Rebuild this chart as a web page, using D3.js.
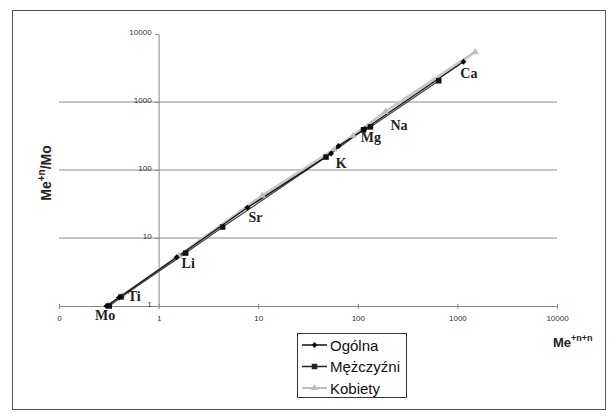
<!DOCTYPE html>
<html lang="pl">
	<head>
		<meta charset="utf-8">
		<title>Me/Mo</title>
		<script type="text/javascript" src="https://cdn.jsdelivr.net/npm/d3@7"></script>
		<style type="text/css">
			body { margin: 0; background: #fff; }
			text { font-family: "Liberation Sans", Arial, sans-serif; }
			.tick text { font-size: 8px; fill: #333; }
			.elem { font-family: "Liberation Serif", "Times New Roman", serif; font-weight: bold; font-size: 14px; fill: #222; }
		</style>
	</head>
	<body>
	<script type="text/javascript">

    // data (x = Me^+n+n, y = Me^+n/Mo)
    var seriesNames = ["Ogólna", "Mężczyźni", "Kobiety"];

    var ogolnaX = [0.30, 0.40, 1.52, 7.8, 54, 64, 118, 1150];
    var ogolnaY = [1.0, 1.33, 5.2, 28, 175, 225, 400, 3900];

    var mezczyzniX = [0.32, 0.42, 1.87, 4.4, 48, 114, 134, 650];
    var mezczyzniY = [1.0, 1.36, 6.0, 14.5, 155, 390, 430, 2050];

    var kobietyX = [0.31, 0.43, 1.6, 11, 58, 90, 190, 1510];
    var kobietyY = [1.02, 1.4, 5.5, 42, 200, 320, 720, 5430];

    var xTicks = [0.1, 1, 10, 100, 1000, 10000];
    var xTickLabels = ["0", "1", "10", "100", "1000", "10000"];
    var yTicks = [1, 10, 100, 1000, 10000];
    var yTickLabels = ["1", "10", "100", "1000", "10000"];

    // element names and where they sit (in data units)
    var elemNames = ["Mo", "Ti", "Li", "Sr", "K", "Mg", "Na", "Ca"];
    var elemX = [0.23, 0.49, 1.70, 8.0, 60, 107, 213, 1070];
    var elemY = [0.62, 1.19, 3.6, 17.2, 107, 258, 388, 2240];

    var w = 616;
    var h = 420;

    var svg = d3.select("body")
                .append("svg")
                .attr("width", w)
                .attr("height", h);

    // outer frame
    svg.append("rect")
       .attr("x", 12.5).attr("y", 10.5)
       .attr("width", 593).attr("height", 399)
       .attr("fill", "none")
       .attr("stroke", "#555")
       .attr("stroke-width", 1);

    var xScale = d3.scaleLog()
                   .domain([0.1, 10000])
                   .range([59, 557]);

    var yScale = d3.scaleLog()
                   .domain([1, 10000])
                   .range([306, 34]);

    // horizontal gridlines
    svg.selectAll("line.grid")
       .data([10, 100, 1000])
       .enter()
       .append("line")
       .attr("class", "grid")
       .attr("x1", xScale(0.1))
       .attr("x2", xScale(10000))
       .attr("y1", function(d) { return yScale(d); })
       .attr("y2", function(d) { return yScale(d); })
       .attr("stroke", "#8a8a8a")
       .attr("stroke-width", 1);

    var xAxis = d3.axisBottom(xScale)
                  .tickValues(xTicks)
                  .tickFormat(function(d, i) { return xTickLabels[i]; })
                  .tickSize(3)
                  .tickPadding(6);

    var yAxis = d3.axisLeft(yScale)
                  .tickValues(yTicks)
                  .tickFormat(function(d, i) { return yTickLabels[i]; })
                  .tickSize(3)
                  .tickPadding(4);

    var gx = svg.append("g")
       .attr("class", "x axis")
       .attr("transform", "translate(0," + yScale(1) + ")")
       .call(xAxis);

    var gy = svg.append("g")
       .attr("class", "y axis")
       .attr("transform", "translate(" + xScale(1) + ",0)")
       .call(yAxis);

    gx.select(".domain").attr("stroke", "#888");
    gy.select(".domain").attr("stroke", "#888");
    gx.selectAll(".tick line").attr("stroke", "#888").attr("y1", -2);
    gy.selectAll(".tick line").attr("stroke", "#888");
    gy.selectAll(".tick text").attr("dy", "0.1em");

    // series
    var makeSeries = function(xs, ys) {
      return xs.map(function(x, i) { return {x: x, y: ys[i]}; });
    };
    var ogolna = makeSeries(ogolnaX, ogolnaY);
    var mezczyzni = makeSeries(mezczyzniX, mezczyzniY);
    var kobiety = makeSeries(kobietyX, kobietyY);

    var line = d3.line()
                 .x(function(d) { return xScale(d.x); })
                 .y(function(d) { return yScale(d.y); });

    svg.append("path")
       .datum(kobiety)
       .attr("d", line)
       .attr("fill", "none")
       .attr("stroke", "#c6c6c6")
       .attr("stroke-width", 3);

    svg.append("path")
       .datum(mezczyzni)
       .attr("d", line)
       .attr("fill", "none")
       .attr("stroke", "#444")
       .attr("stroke-width", 1.3);

    svg.append("path")
       .datum(ogolna)
       .attr("d", line)
       .attr("fill", "none")
       .attr("stroke", "#111")
       .attr("stroke-width", 1.3);

    var diamond = d3.symbol().type(d3.symbolDiamond2).size(22);
    var square = d3.symbol().type(d3.symbolSquare).size(30);
    var triangle = d3.symbol().type(d3.symbolTriangle).size(22);

    svg.selectAll("path.kob")
       .data(kobiety)
       .enter()
       .append("path")
       .attr("class", "kob")
       .attr("d", triangle)
       .attr("transform", function(d) { return "translate(" + xScale(d.x) + "," + yScale(d.y) + ")"; })
       .attr("fill", "#bdbdbd");

    svg.selectAll("path.mez")
       .data(mezczyzni)
       .enter()
       .append("path")
       .attr("class", "mez")
       .attr("d", square)
       .attr("transform", function(d) { return "translate(" + xScale(d.x) + "," + yScale(d.y) + ")"; })
       .attr("fill", "#111");

    svg.selectAll("path.ogo")
       .data(ogolna)
       .enter()
       .append("path")
       .attr("class", "ogo")
       .attr("d", diamond)
       .attr("transform", function(d) { return "translate(" + xScale(d.x) + "," + yScale(d.y) + ")"; })
       .attr("fill", "#000");

    // element labels
    svg.selectAll("text.elem")
       .data(elemNames)
       .enter()
       .append("text")
       .attr("class", "elem")
       .attr("x", function(d, i) { return xScale(elemX[i]); })
       .attr("y", function(d, i) { return yScale(elemY[i]); })
       .text(function(d) { return d; });

    // axis titles
    var yTitle = svg.append("text")
       .attr("transform", "translate(51,173) rotate(-90)")
       .attr("text-anchor", "middle")
       .attr("font-size", "14px")
       .attr("font-weight", "bold")
       .attr("fill", "#222");
    yTitle.append("tspan").text("Me");
    yTitle.append("tspan").attr("dy", -6).attr("font-size", "10px").text("+n");
    yTitle.append("tspan").attr("dy", 6).text("/Mo");

    var xTitle = svg.append("text")
       .attr("x", 553)
       .attr("y", 347)
       .attr("font-size", "13px")
       .attr("font-weight", "bold")
       .attr("fill", "#222");
    xTitle.append("tspan").text("Me");
    xTitle.append("tspan").attr("dy", -6).attr("font-size", "9px").text("+n+n");

    // legend
    var legend = svg.append("g").attr("transform", "translate(297,333)");
    legend.append("rect")
          .attr("x", 0.5).attr("y", 0.5)
          .attr("width", 109).attr("height", 64)
          .attr("fill", "#fff")
          .attr("stroke", "#333");

    var legendSymbols = [diamond, square, triangle];
    var legendColors = ["#111", "#222", "#bdbdbd"];

    var items = legend.selectAll("g.item")
          .data(seriesNames)
          .enter()
          .append("g")
          .attr("class", "item")
          .attr("transform", function(d, i) { return "translate(0," + (12 + i * 21.5) + ")"; });

    items.append("line")
         .attr("x1", 5).attr("x2", 30)
         .attr("y1", 0).attr("y2", 0)
         .attr("stroke", function(d, i) { return legendColors[i]; })
         .attr("stroke-width", function(d, i) { return i == 2 ? 2 : 1.5; });

    items.append("path")
         .attr("d", function(d, i) { return legendSymbols[i](); })
         .attr("transform", "translate(17.5,0)")
         .attr("fill", function(d, i) { return legendColors[i]; });

    items.append("text")
         .attr("x", 33)
         .attr("y", 5.5)
         .attr("font-size", "15px")
         .attr("fill", "#111")
         .text(function(d) { return d; });

	</script>
	</body>
</html>
